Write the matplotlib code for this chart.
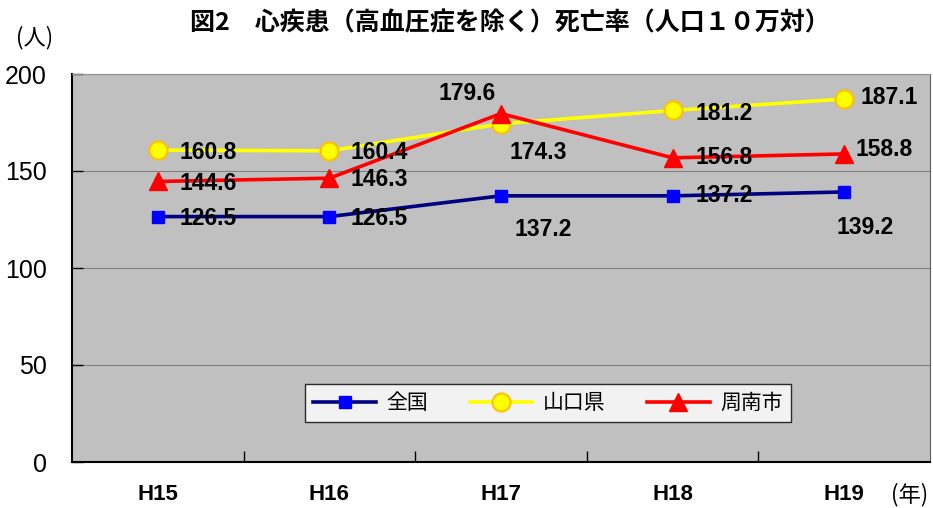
import matplotlib
matplotlib.use("Agg")
import matplotlib.pyplot as plt
from matplotlib.ticker import FixedLocator

plt.rcParams['font.family'] = ['Liberation Sans', 'Noto Sans CJK JP', 'DejaVu Sans']

categories = ['H15', 'H16', 'H17', 'H18', 'H19']
zenkoku = [126.5, 126.5, 137.2, 137.2, 139.2]
yamaguchi = [160.8, 160.4, 174.3, 181.2, 187.1]
shunan = [144.6, 146.3, 179.6, 156.8, 158.8]
series_names = ['全国', '山口県', '周南市']
yticks = [0, 50, 100, 150, 200]

# label offsets in pixels (dx, dy)
off_z = [(50, -2), (50, -2), (42, -34), (52, 0), (21, -36)]
off_y = [(50, -2), (50, -2), (37, -29), (52, -3), (45, 2)]
off_s = [(50, -2), (50, -1), (-34, 20), (52, 0), (40, 4)]

fig = plt.figure(figsize=(9.33, 5.08), dpi=100)
ax = fig.add_axes([72/933, 46/508, 858/933, 388/508])
ax.set_facecolor('#C0C0C0')
x = list(range(len(categories)))

l1, = ax.plot(x, zenkoku, color='#000080', lw=2.6, marker='s', ms=9,
              mfc='#0000FF', mec='#0000FF', label=series_names[0], zorder=3)
l2, = ax.plot(x, yamaguchi, color='#FFFF00', lw=2.6, marker='o', ms=13,
              mfc='#FFFF00', mec='#FFC000', mew=1.5, label=series_names[1], zorder=3)
l3, = ax.plot(x, shunan, color='#FF0000', lw=2.6, marker='^', ms=13,
              mfc='#FF0000', mec='#FF0000', label=series_names[2], zorder=4)

for vals, offs in ((zenkoku, off_z), (yamaguchi, off_y), (shunan, off_s)):
    for xi, v, (dx, dy) in zip(x, vals, offs):
        ax.annotate(f'{v:.1f}', (xi, v), xytext=(dx, dy), textcoords='offset pixels',
                    ha='center', va='center', fontsize=16.5, fontweight='bold',
                    color='black', zorder=5)

ax.set_xlim(-0.5, len(categories) - 0.5)
ax.set_ylim(0, 200)
ax.set_yticks(yticks)
ax.set_yticklabels([str(t) for t in yticks], fontsize=18)
ax.yaxis.grid(True, color='#808080', lw=0.8)
ax.set_axisbelow(True)
ax.tick_params(axis='y', direction='in', length=8, width=1, pad=18)

ax.set_xticks(x)
ax.set_xticklabels(categories, fontsize=16, fontweight='bold',
                   family=['Liberation Sans Narrow', 'Liberation Sans'])
ax.xaxis.set_minor_locator(FixedLocator([i + 0.5 for i in range(len(categories) - 1)]))
ax.tick_params(axis='x', which='major', length=0, pad=16)
ax.tick_params(axis='x', which='minor', direction='in', length=8, width=1)

ax.spines['left'].set_color('black')
ax.spines['bottom'].set_color('black')
ax.spines['left'].set_linewidth(1.5)
ax.spines['bottom'].set_linewidth(1.5)
ax.spines['top'].set_color('#909090')
ax.spines['right'].set_color('#606060')

leg = fig.legend(handles=[l1, l2, l3], loc='center', bbox_to_anchor=(548/933, 1 - 403/508),
                 ncol=3, frameon=True, fancybox=False, edgecolor='black',
                 handlelength=3.0, columnspacing=2.0, borderpad=0.4, handletextpad=0.5,
                 prop={'family': ['Noto Sans CJK JP'], 'size': 15})
leg.get_frame().set_linewidth(1.0)

fig.text(510/933, 1 - 23/508, '図2　心疾患（高血圧症を除く）死亡率（人口１０万対）',
         ha='center', va='center', fontsize=18, fontweight='bold',
         family=['Noto Sans CJK JP', 'DejaVu Sans'])
fig.text(35/933, 1 - 38/508, '(人)', ha='center', va='center', fontsize=16,
         family=['Noto Sans CJK JP', 'DejaVu Sans'])
fig.text(910/933, 1 - 495/508, '(年)', ha='center', va='center', fontsize=16,
         family=['Noto Sans CJK JP', 'DejaVu Sans'])

fig.savefig('out.png', dpi=100)
